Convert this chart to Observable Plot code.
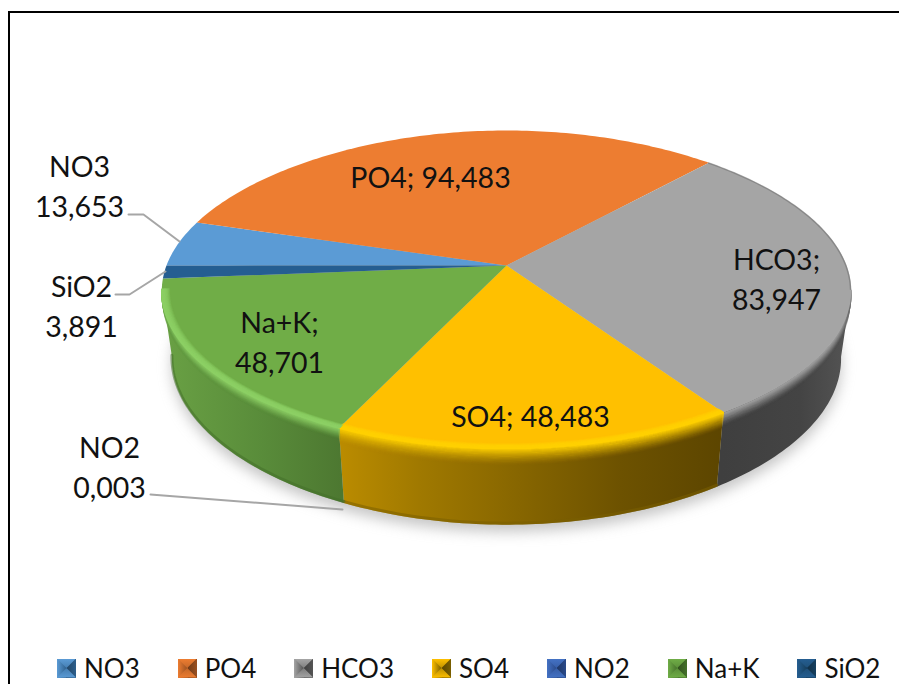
<!DOCTYPE html>
<html>
<head>
<meta charset="utf-8">
<script src="https://cdn.jsdelivr.net/npm/d3@7"></script>
<script src="https://cdn.jsdelivr.net/npm/@observablehq/plot@0.6"></script>
<style>
  html, body { margin: 0; padding: 0; width: 899px; height: 684px; overflow: hidden; background: #fff; }
  #wrap { position: relative; width: 899px; height: 684px; font-family: Lato, sans-serif; }
  #frame { position: absolute; left: 8px; top: 11px; right: -4px; bottom: -4px; border: 2px solid #000; pointer-events: none; }
  #chart svg { display: block; }
  #legend { position: absolute; left: 57px; top: 650px; display: flex; align-items: center; height: 36px; font-size: 26px; color: #111; white-space: nowrap; }
  .item { display: flex; align-items: center; margin-right: 38px; }
  .item:last-child { margin-right: 0; }
  .sw { width: 19px; height: 19px; margin-right: 8px; position: relative; }
  .sw i { position: absolute; inset: 0; clip-path: polygon(0 0, 100% 0, 50% 50%, 100% 100%, 0 100%, 50% 50%); }
</style>
</head>
<body>
<div id="wrap">
  <div id="chart"></div>
  <div id="legend"></div>
  <div id="frame"></div>
</div>
<script>
// ---- data ----
const names  = ["NO3", "PO4", "HCO3", "SO4", "NO2", "Na+K", "SiO2"];
const values = [13.653, 94.483, 83.947, 48.483, 0.003, 48.701, 3.891];
const colors = ["#5b9bd5", "#ed7d31", "#a5a5a5", "#ffc000", "#4472c4", "#70ad47", "#255e91"];
const darks  = ["#2d5f8c", "#9a5020", "#555555", "#7a5f00", "#2a4a8a", "#44702a", "#16405f"];

// ---- pie layout ----
const firstAngle = 270;
const APEX_X = 506;
const TOP = {a: 340, b: 155.4, k: 0.151, cy: 265};
const BOT = {a: 330, b: 164, k: 0.151, cy: 331};
const TANGENT = Math.acos(-0.15) * 180 / Math.PI;

function disc(p, deg, r = 1) {
  const t = deg * Math.PI / 180, u = r * Math.sin(t), v = r * Math.cos(t);
  const c = Math.cos(t);
  const wx = 1 + 0.17 * c + 0.03 * c * c, wy = 1 + p.k * c;
  return [APEX_X + p.a * u / wx, p.cy - p.b * v / wy];
}
function arc(p, d0, d1, r = 1) {
  const n = Math.max(2, Math.ceil(Math.abs(d1 - d0)));
  return d3.range(n + 1).map(i => disc(p, d0 + (d1 - d0) * i / n, r));
}
const lerp = (a, b, f) => [a[0] + (b[0] - a[0]) * f, a[1] + (b[1] - a[1]) * f];

const total = d3.sum(values);
let acc = firstAngle;
const slices = names.map((name, i) => {
  const d0 = acc, d1 = acc + values[i] / total * 360;
  acc = d1;
  return {name, value: values[i], d0, d1, color: colors[i], dark: darks[i]};
});
const byName = Object.fromEntries(slices.map(s => [s.name, s]));
const fmt = v => v.toFixed(3).replace(".", ",");

// top faces
const faceRows = slices.flatMap(s => [disc(TOP, 0, 0), ...arc(TOP, s.d0, s.d1)].map(([x, y]) => ({x, y, key: s.name, fill: s.color})));

// visible front part of each slice, normalised to 0..360
function frontRange(s) {
  const a = s.d0 % 360, b = a + (s.d1 - s.d0);
  if (b <= TANGENT || a >= 360 - TANGENT) return null;
  return [Math.max(a, TANGENT), Math.min(b, 360 - TANGENT)];
}
const sideGrad = {"HCO3": "url(#sideGray)", "SO4": "url(#sideYellow)", "Na+K": "url(#sideGreen)"};
function sideMark(s) {
  const rg = frontRange(s);
  if (!rg || !sideGrad[s.name]) return null;
  const pts = [...arc(TOP, rg[0], rg[1]), ...arc(BOT, rg[1], rg[0])].map(([x, y]) => ({x, y}));
  return Plot.line(pts, {x: "x", y: "y", fill: sideGrad[s.name], stroke: "none"});
}

// bevel: stacked arcs fading from the edge highlight into the side and the face
const bevel = {
  "HCO3": {hi: "#a5a5a5", to: "#555555", inner: 0.0, outer: 0.2},
  "SO4":  {hi: "#ffd000", to: "#b58a00", inner: 0.03, outer: 0.22},
  "Na+K": {hi: "#8ccf64", to: "#5f9440", inner: 0.025, outer: 0.16}
};
const LEVELS = 16;
const bevelRows = slices.flatMap(s => {
  const cfg = bevel[s.name], rg = frontRange(s);
  if (!cfg || !rg) return [];
  return d3.range(-LEVELS, LEVELS + 1).flatMap(l => {
    const q = l / LEVELS;
    const inner = q <= 0;
    if (inner && cfg.inner === 0) return [];
    const op = inner ? 1 + q : Math.pow(1 - q, 1.2);
    const stroke = inner ? cfg.hi : d3.interpolateRgb(cfg.hi, cfg.to)(q);
    const n = Math.ceil(rg[1] - rg[0]);
    return d3.range(n + 1).map(i => {
      const deg = rg[0] + (rg[1] - rg[0]) * i / n;
      const p = inner ? disc(TOP, deg, 1 + q * cfg.inner) : lerp(disc(TOP, deg), disc(BOT, deg), q * cfg.outer);
      return {x: p[0], y: p[1], key: s.name + ":" + l, inner, stroke, op};
    });
  });
});

// dark lower lip of the coloured sides
const lipRows = ["SO4", "Na+K"].flatMap(n => {
  const rg = frontRange(byName[n]);
  return arc(BOT, rg[0], rg[1]).map(([x, y]) => ({x, y: y - 1.5, key: n, stroke: byName[n].dark}));
});

// dark rim along the back part of the grey slice
const hco = byName["HCO3"];
const rimRows = arc(TOP, hco.d0 % 360, TANGENT, 0.998).map(([x, y]) => ({x, y}));

// shadow under the pie
const shadowRows = arc(BOT, 0, 360, 1).map(([x, y]) => ({x, y: y + 7}));

// data labels (layout kept apart from the data)
const labelAt = {
  "PO4":  {x: 430, y: 175, sep: "; "},
  "HCO3": {x: 776, y: 277, sep: ";\n"},
  "SO4":  {x: 530, y: 414, sep: "; "},
  "Na+K": {x: 279, y: 340, sep: ";\n"},
  "NO3":  {x: 79,  y: 184, sep: "\n"},
  "SiO2": {x: 81,  y: 304, sep: "\n"},
  "NO2":  {x: 109, y: 465, sep: "\n"}
};
const labelRows = names.map(n => ({...labelAt[n], text: n + labelAt[n].sep + fmt(byName[n].value)}));

// leader lines
const leaders = [
  {key: "NO3",  pts: [[128, 214], [143, 214], [179, 241]]},
  {key: "SiO2", pts: [[115, 294], [129, 294], [165, 271]]},
  {key: "NO2",  pts: [[150, 494], [342, 509]]}
].flatMap(l => l.pts.map(([x, y]) => ({x, y, key: l.key})));

function gradient(id, stops, x0, x1) {
  return `<linearGradient id="${id}" gradientUnits="userSpaceOnUse" x1="${x0}" x2="${x1}" y1="0" y2="0">` +
    stops.map(([o, c]) => `<stop offset="${o}" stop-color="${c}"/>`).join("") + `</linearGradient>`;
}
const defsMark = () => {
  const g = document.createElementNS("http://www.w3.org/2000/svg", "defs");
  g.innerHTML =
    gradient("sideYellow", [[0, "#bb8c00"], [0.21, "#a07900"], [0.73, "#6d5200"], [1, "#5c4500"]], 338, 724) +
    gradient("sideGreen", [[0, "#69a044"], [0.55, "#598c3a"], [1, "#4d7831"]], 165, 340) +
    gradient("sideGray", [[0, "#3f3f3f"], [0.6, "#444444"], [1, "#555555"]], 722, 851);
  return g;
};

const SVG_H = 648;
const chart = Plot.plot({
  width: 899,
  height: SVG_H,
  margin: 0,
  x: {domain: [0, 899], range: [0, 899], axis: null},
  y: {domain: [0, SVG_H], range: [0, SVG_H], axis: null},
  style: {background: "transparent", overflow: "hidden"},
  marks: [
    defsMark,
    Plot.line(shadowRows, {x: "x", y: "y", fill: "#8c8c8c", stroke: "none", fillOpacity: 0.5, imageFilter: "blur(7px)"}),
    ...slices.map(sideMark).filter(Boolean),
    Plot.line(lipRows, {x: "x", y: "y", z: "key", stroke: {value: "stroke", scale: null}, strokeWidth: 3, strokeOpacity: 0.55, fill: "none"}),
    Plot.line(bevelRows.filter(d => !d.inner), {x: "x", y: "y", z: "key", stroke: {value: "stroke", scale: null}, strokeOpacity: {value: "op", scale: null}, strokeWidth: 1.6, fill: "none"}),
    Plot.line(faceRows, {x: "x", y: "y", z: "key", fill: {value: "fill", scale: null}, stroke: "none"}),
    Plot.line(bevelRows.filter(d => d.inner), {x: "x", y: "y", z: "key", stroke: {value: "stroke", scale: null}, strokeOpacity: {value: "op", scale: null}, strokeWidth: 1.6, fill: "none"}),
    Plot.line(rimRows, {x: "x", y: "y", stroke: "#6a6a6a", strokeWidth: 1.5, strokeOpacity: 0.5, fill: "none"}),
    Plot.line(leaders, {x: "x", y: "y", z: "key", stroke: "#a6a6a6", strokeWidth: 2, fill: "none"}),
    Plot.text(labelRows, {x: "x", y: "y", text: "text", fontSize: 28.5, fontFamily: "Lato, sans-serif", fill: "#111", lineHeight: 1.37, textAnchor: "middle"})
  ]
});
document.getElementById("chart").append(chart);

// legend below the plot: bevelled swatches, dark at the centre, darkest on the right
const legend = d3.select("#legend");
slices.forEach(s => {
  const item = legend.append("div").attr("class", "item");
  const sw = item.append("div").attr("class", "sw").style("background",
    `linear-gradient(90deg, ${s.color}, ${s.dark} 50%, ${d3.color(s.dark).darker(0.9)} 50%, ${s.dark})`);
  sw.append("i").style("background",
    `linear-gradient(180deg, ${s.color}, ${d3.interpolateRgb(s.color, s.dark)(0.5)} 50%, ${s.color})`);
  item.append("span").text(s.name);
});
</script>
</body>
</html>
